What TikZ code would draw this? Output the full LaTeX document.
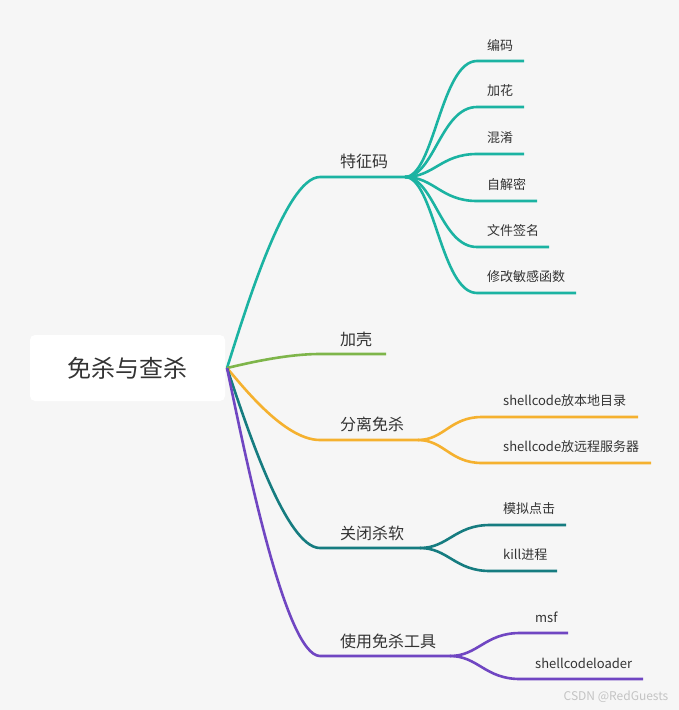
\documentclass[tikz,border=0pt]{standalone}
\usepackage{fontspec}
\setmainfont{Noto Sans CJK SC}
\definecolor{bgc}{HTML}{F6F6F6}
\definecolor{txt}{HTML}{333333}
\definecolor{tealc}{HTML}{1BB3A2}
\definecolor{greenc}{HTML}{7EB54A}
\definecolor{orangec}{HTML}{F5B12F}
\definecolor{dtealc}{HTML}{167C80}
\definecolor{purplec}{HTML}{7046C2}
\definecolor{wmc}{HTML}{C4C4C4}
\begin{document}
\begin{tikzpicture}[x=1pt,y=-1pt,
  lbl/.style={anchor=west, inner sep=0pt, text=txt, font=\fontsize{16}{18}\selectfont},
  sub/.style={anchor=west, inner sep=0pt, text=txt, font=\fontsize{13}{15}\selectfont},
  br/.style={line width=2.6pt}]
\fill[bgc] (0,0) rectangle (679,710);
\useasboundingbox (0,0) rectangle (679,710);

% root
\node[fill=white, rounded corners=5pt, minimum width=195pt, minimum height=66pt, inner sep=0pt,
      font=\fontsize{24}{28}\selectfont, text=txt] (root) at (127.5,368) {免杀与查杀};
\coordinate (r) at (227,368);

% ---- 特征码 ----
\coordinate (a0) at (320,177); \coordinate (aj) at (405,177);
\draw[br,tealc] (r) .. controls +(17,-53) and +(-35,0) .. (a0) -- (aj);
\node[lbl] (a) at (340,161) {特征码};
\foreach \i/\y/\e/\t in {1/61/524/编码, 2/107/524/加花, 3/154/524/混淆, 4/201/537/自解密, 5/247/549/文件签名, 6/293/576/修改敏感函数}{
  \coordinate (a\i s) at (477,\y); \coordinate (a\i e) at (\e,\y);
  \draw[br,tealc] (aj) .. controls +(29,0) and +(-36,0) .. (a\i s) -- (a\i e);
  \node[sub] (a\i) at (487,\y-16) {\t};
}

% ---- 加壳 ----
\coordinate (b0) at (320,354); \coordinate (bj) at (386,354);
\draw[br,greenc] (r) .. controls +(17,-4) and +(-35,0) .. (b0) -- (bj);
\node[lbl] (b) at (340,339) {加壳};

% ---- 分离免杀 ----
\coordinate (c0) at (320,440); \coordinate (cj) at (418,440);
\draw[br,orangec] (r) .. controls +(17,20) and +(-35,0) .. (c0) -- (cj);
\node[lbl] (c) at (340,424) {分离免杀};
\foreach \i/\y/\e/\t in {1/417/638/shellcode放本地目录, 2/463/651/shellcode放远程服务器}{
  \coordinate (c\i s) at (482,\y); \coordinate (c\i e) at (\e,\y);
  \draw[br,orangec] (cj) .. controls +(26,0) and +(-32,0) .. (c\i s) -- (c\i e);
  \node[sub] (c\i) at (503,\y-16) {\t};
}

% ---- 关闭杀软 ----
\coordinate (d0) at (320,548); \coordinate (dj) at (420,548);
\draw[br,dtealc] (r) .. controls +(17,50) and +(-35,0) .. (d0) -- (dj);
\node[lbl] (d) at (340,533) {关闭杀软};
\foreach \i/\y/\e/\t in {1/525/566/模拟点击, 2/571/557/kill进程}{
  \coordinate (d\i s) at (490,\y); \coordinate (d\i e) at (\e,\y);
  \draw[br,dtealc] (dj) .. controls +(28,0) and +(-35,0) .. (d\i s) -- (d\i e);
  \node[sub] (d\i) at (503,\y-16) {\t};
}

% ---- 使用免杀工具 ----
\coordinate (e0) at (320,656); \coordinate (ej) at (450,656);
\draw[br,purplec] (r) .. controls +(17,81) and +(-35,0) .. (e0) -- (ej);
\node[lbl] (e) at (340,641) {使用免杀工具};
\foreach \i/\y/\e/\t in {1/633/568/msf, 2/679/643/shellcodeloader}{
  \coordinate (e\i s) at (520,\y); \coordinate (e\i e) at (\e,\y);
  \draw[br,purplec] (ej) .. controls +(28,0) and +(-35,0) .. (e\i s) -- (e\i e);
  \node[sub] (e\i) at (535,\y-16) {\t};
}

\node[inner sep=0pt, text=wmc, font=\fontsize{12}{14}\selectfont] (wm) at (616,697) {CSDN @RedGuests};
\end{tikzpicture}
\end{document}
